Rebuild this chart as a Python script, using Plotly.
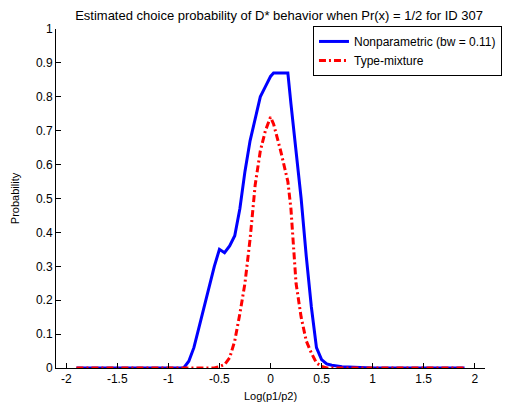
import plotly.graph_objects as go

# ---- data ----
x_vals = [-1.9, -1.8, -1.7, -1.6, -1.5, -1.4, -1.3, -1.2, -1.1, -1.0, -0.9,
          -0.85, -0.8, -0.75, -0.7, -0.65, -0.6, -0.55, -0.5, -0.45, -0.4,
          -0.35, -0.3, -0.25, -0.2, -0.15, -0.1, -0.05, 0.0, 0.03, 0.1,
          0.17, 0.2, 0.25, 0.3, 0.35, 0.4, 0.45, 0.5, 0.55, 0.6, 0.7,
          0.8, 0.9, 1.0, 1.1, 1.2, 1.3, 1.4, 1.5, 1.6, 1.7, 1.8, 1.9]

nonparametric = [0, 0, 0, 0, 0, 0, 0, 0, 0, 0, 0,
                 0.0, 0.02, 0.06, 0.12, 0.18, 0.24, 0.30, 0.35, 0.34, 0.36,
                 0.39, 0.47, 0.58, 0.67, 0.74, 0.80, 0.83, 0.86, 0.87, 0.87,
                 0.87, 0.78, 0.64, 0.50, 0.33, 0.18, 0.06, 0.025, 0.012, 0.008, 0.004,
                 0.002, 0, 0, 0, 0, 0, 0, 0, 0, 0, 0, 0]

type_mixture = [0, 0, 0, 0, 0, 0, 0, 0, 0, 0, 0,
                0, 0, 0, 0, 0, 0, 0, 0.004, 0.01, 0.03,
                0.08, 0.16, 0.25, 0.38, 0.54, 0.64, 0.70, 0.74, 0.72, 0.64,
                0.55, 0.47, 0.25, 0.15, 0.08, 0.044, 0.015, 0.005, 0, 0, 0,
                0, 0, 0, 0, 0, 0, 0, 0, 0, 0, 0, 0]

x_ticks = [-2, -1.5, -1, -0.5, 0, 0.5, 1, 1.5, 2]
x_tick_labels = ["-2", "-1.5", "-1", "-0.5", "0", "0.5", "1", "1.5", "2"]
y_ticks = [0, 0.1, 0.2, 0.3, 0.4, 0.5, 0.6, 0.7, 0.8, 0.9, 1]
y_tick_labels = ["0", "0.1", "0.2", "0.3", "0.4", "0.5", "0.6", "0.7", "0.8", "0.9", "1"]

fig = go.Figure()
fig.add_trace(go.Scatter(x=x_vals, y=nonparametric, mode="lines",
                         name="Nonparametric (bw = 0.11)",
                         line=dict(color="#0000ff", width=3)))
fig.add_trace(go.Scatter(x=x_vals, y=type_mixture, mode="lines",
                         name="Type-mixture",
                         line=dict(color="#ff0000", width=3, dash="7px,3px,2px,3px")))

font = "Liberation Sans, Arial, sans-serif"
# page body adds an 8px offset; figure sized to fill the rest of the window
fig.update_layout(
    width=506, height=404,
    margin=dict(l=48, r=24, t=21, b=44),
    paper_bgcolor="white", plot_bgcolor="white",
    font=dict(family=font, size=12, color="black"),
    title=dict(text="Estimated choice probability of D* behavior when Pr(x) = 1/2 for ID 307",
               x=0.52, xanchor="center", xref="paper",
               y=0.993, yanchor="top", pad=dict(t=0, b=0),
               font=dict(size=13, color="black")),
    showlegend=True,
    legend=dict(x=0.599, y=1.009, xanchor="left", yanchor="top",
                bordercolor="black", borderwidth=1, bgcolor="white",
                font=dict(size=12), tracegroupgap=0,
                itemwidth=30),
    xaxis=dict(range=[-2.1, 2.1], tickvals=x_ticks, ticktext=x_tick_labels,
               showline=True, linecolor="black", linewidth=1,
               ticks="inside", ticklen=5, tickcolor="black",
               showgrid=False, zeroline=False, mirror=False, automargin=False,
               title=dict(text="Log(p1/p2)", standoff=6, font=dict(size=11))),
    yaxis=dict(range=[0, 1], tickvals=y_ticks, ticktext=y_tick_labels,
               showline=True, linecolor="black", linewidth=1,
               ticks="inside", ticklen=5, tickcolor="black",
               showgrid=False, zeroline=False, mirror=False, automargin=False,
               title=dict(text="Probability", standoff=14, font=dict(size=11))),
)

fig.write_html("out.html")
